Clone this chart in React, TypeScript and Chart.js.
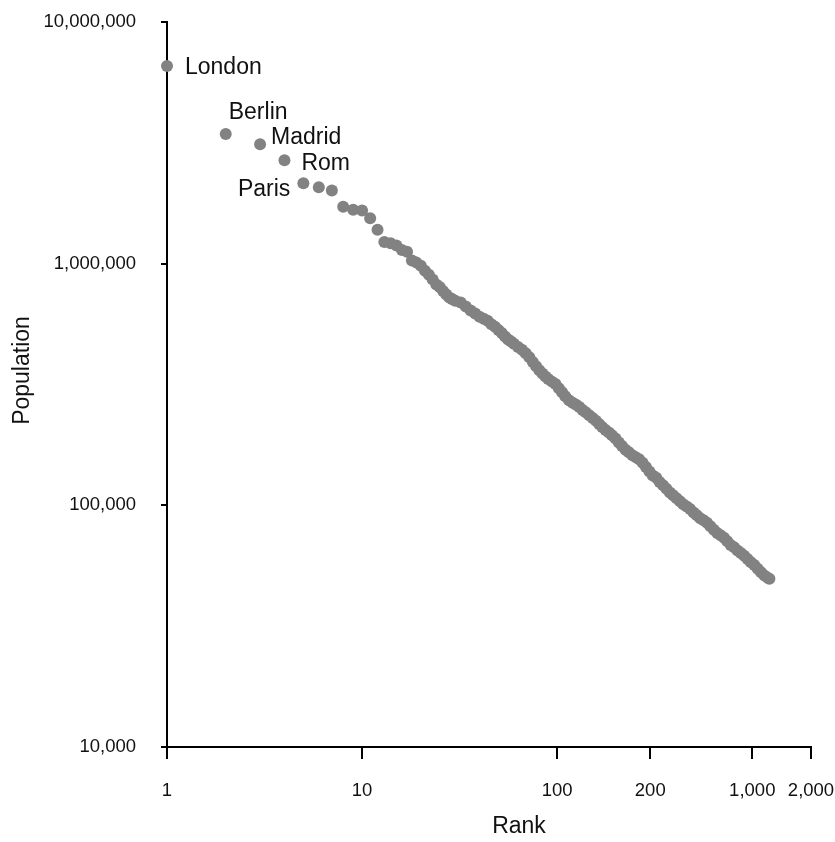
import React, { useEffect, useRef } from "react";
import { Chart, registerables } from "chart.js";

Chart.register(...registerables);

// ---- data ----
const ranks = [
  1, 2, 3, 4, 5, 6, 7, 8, 9, 10, 11, 12, 13, 14, 15, 16, 17, 18, 19, 20,
  21, 22, 23, 24, 25, 26, 27, 28, 29, 30, 32, 34, 36, 38, 40, 42, 44, 46, 48, 50,
  52, 54, 56, 58, 60, 63, 66, 69, 72, 75, 78, 81, 84, 87, 90, 94, 98, 102, 106, 110,
  115, 120, 125, 130, 135, 140, 146, 152, 158, 164, 170, 177, 184, 191, 199, 207, 215, 224, 233, 243,
  253, 263, 274, 285, 297, 309, 322, 335, 349, 363, 378, 393, 409, 426, 443, 461, 480, 500, 520, 541,
  563, 586, 610, 635, 661, 688, 716, 745, 775, 807, 840, 874, 909, 946, 984, 1024, 1066, 1109, 1154, 1200,
  1224,
];

const populations = [
  6570000, 3440000, 3120000, 2680000, 2150000, 2070000, 2010000, 1720000, 1670000, 1660000,
  1540000, 1380000, 1230000, 1215000, 1190000, 1140000, 1120000, 1030000, 1010000, 980000,
  935000, 900000, 860000, 820000, 800000, 770000, 745000, 725000, 712000, 702000,
  690000, 665000, 640000, 622000, 603000, 592000, 580000, 562000, 548000, 532000,
  516000, 500000, 486000, 476000, 466000, 452000, 440000, 426000, 410000, 392000,
  376000, 362000, 351000, 341000, 333000, 325000, 318000, 305000, 294000, 283000,
  272000, 266000, 261000, 255000, 248000, 243000, 236000, 230000, 224000, 217000,
  211000, 205000, 200000, 195000, 189000, 182000, 176000, 170000, 166000, 161000,
  158000, 155000, 150000, 144000, 138000, 133000, 130000, 125000, 121000, 117000,
  113000, 110000, 107000, 104000, 101000, 99000, 96500, 93500, 91000, 88500,
  86800, 84800, 82000, 79200, 76800, 75200, 73400, 71000, 68600, 67000,
  65100, 63500, 61800, 60000, 58200, 56600, 54700, 52800, 51200, 50100,
  49700,
];

const cityNames = ["London", "Berlin", "Madrid", "Rom", "Paris"];
const cityRanks = [1, 2, 3, 4, 5];

const xTickValues = [1, 10, 100, 300, 1000, 2000];
const xTickLabels = ["1", "10", "100", "200", "1,000", "2,000"];
const yTickValues = [10000, 100000, 1000000, 10000000];
const yTickLabels = ["10,000", "100,000", "1,000,000", "10,000,000"];

const xTitle = "Rank";
const yTitle = "Population";

// ---- styling ----
const FONT = "'Liberation Sans', Arial, Helvetica, sans-serif";
const POINT_COLOR = "#828282";
const TEXT_COLOR = "#111111";

const labelPlacement: Record<string, { dx: number; dy: number; align: CanvasTextAlign }> = {
  London: { dx: 18, dy: 2, align: "left" },
  Berlin: { dx: 3, dy: -21, align: "left" },
  Madrid: { dx: 11, dy: -7, align: "left" },
  Rom: { dx: 17, dy: 3, align: "left" },
  Paris: { dx: -13, dy: 6, align: "right" },
};

const textPlugin = {
  id: "textOverlay",
  afterDatasetsDraw(chart: any) {
    const ctx: CanvasRenderingContext2D = chart.ctx;
    const xs = chart.scales.x;
    const ys = chart.scales.y;
    const ca = chart.chartArea;
    ctx.save();
    ctx.fillStyle = TEXT_COLOR;
    ctx.font = `23px ${FONT}`;
    ctx.textBaseline = "middle";
    cityNames.forEach((name, i) => {
      const r = cityRanks[i];
      const idx = ranks.indexOf(r);
      const px = xs.getPixelForValue(r);
      const py = ys.getPixelForValue(populations[idx]);
      const p = labelPlacement[name];
      ctx.textAlign = p.align;
      ctx.fillText(name, px + p.dx, py + p.dy);
    });
    // axis titles
    ctx.font = `23px ${FONT}`;
    ctx.textAlign = "center";
    ctx.fillText(xTitle, (ca.left + ca.right) / 2 + 30, ca.bottom + 80);
    ctx.translate(23, (ca.top + ca.bottom) / 2 - 14);
    ctx.rotate(-Math.PI / 2);
    ctx.fillText(yTitle, 0, 0);
    ctx.restore();
  },
};

export default function App() {
  const canvasRef = useRef<HTMLCanvasElement | null>(null);

  useEffect(() => {
    if (!canvasRef.current) return;
    const chart = new Chart(canvasRef.current, {
      type: "scatter",
      data: {
        datasets: [
          {
            label: yTitle,
            data: ranks.map((r, i) => ({ x: r, y: populations[i] })),
            backgroundColor: POINT_COLOR,
            borderColor: POINT_COLOR,
            borderWidth: 0,
            pointRadius: 6,
            pointHoverRadius: 6,
            clip: false as any,
          },
        ],
      },
      options: {
        animation: false,
        responsive: true,
        maintainAspectRatio: false,
        events: [],
        layout: { padding: { top: 22, right: 24, left: 0, bottom: 0 } },
        plugins: {
          legend: { display: false },
          tooltip: { enabled: false },
          title: { display: false },
        },
        scales: {
          x: {
            type: "logarithmic",
            min: 1,
            max: 2000,
            afterFit: (s: any) => {
              s.height = 95;
              s.paddingLeft = 0;
              s.paddingRight = 0;
            },
            afterBuildTicks: (s: any) => {
              s.ticks = xTickValues.map((v) => ({ value: v }));
            },
            ticks: {
              autoSkip: false,
              maxRotation: 0,
              padding: 21,
              color: TEXT_COLOR,
              font: { family: FONT, size: 18.5 },
              callback: (v: any) => {
                const i = xTickValues.indexOf(Number(v));
                return i >= 0 ? xTickLabels[i] : "";
              },
            },
            grid: {
              display: true,
              drawOnChartArea: false,
              drawTicks: true,
              tickLength: 12,
              color: "#000",
              lineWidth: 2,
            },
            border: { display: true, color: "#000", width: 2 },
            title: { display: false },
          },
          y: {
            type: "logarithmic",
            min: 10000,
            max: 10000000,
            afterFit: (s: any) => {
              s.width = 167;
              s.paddingTop = 0;
              s.paddingBottom = 0;
            },
            afterBuildTicks: (s: any) => {
              s.ticks = yTickValues.map((v) => ({ value: v }));
            },
            ticks: {
              autoSkip: false,
              padding: 25,
              color: TEXT_COLOR,
              font: { family: FONT, size: 18.5 },
              callback: (v: any) => {
                const i = yTickValues.indexOf(Number(v));
                return i >= 0 ? yTickLabels[i] : "";
              },
            },
            grid: {
              display: true,
              drawOnChartArea: false,
              drawTicks: true,
              tickLength: 6,
              color: "#000",
              lineWidth: 2,
            },
            border: { display: true, color: "#000", width: 2 },
            title: { display: false },
          },
        },
      },
      plugins: [textPlugin],
    });
    return () => chart.destroy();
  }, []);

  return (
    <div
      style={{
        position: "fixed",
        left: 0,
        top: 0,
        width: 835,
        height: 842,
        background: "#fff",
      }}
    >
      <canvas ref={canvasRef} />
    </div>
  );
}
